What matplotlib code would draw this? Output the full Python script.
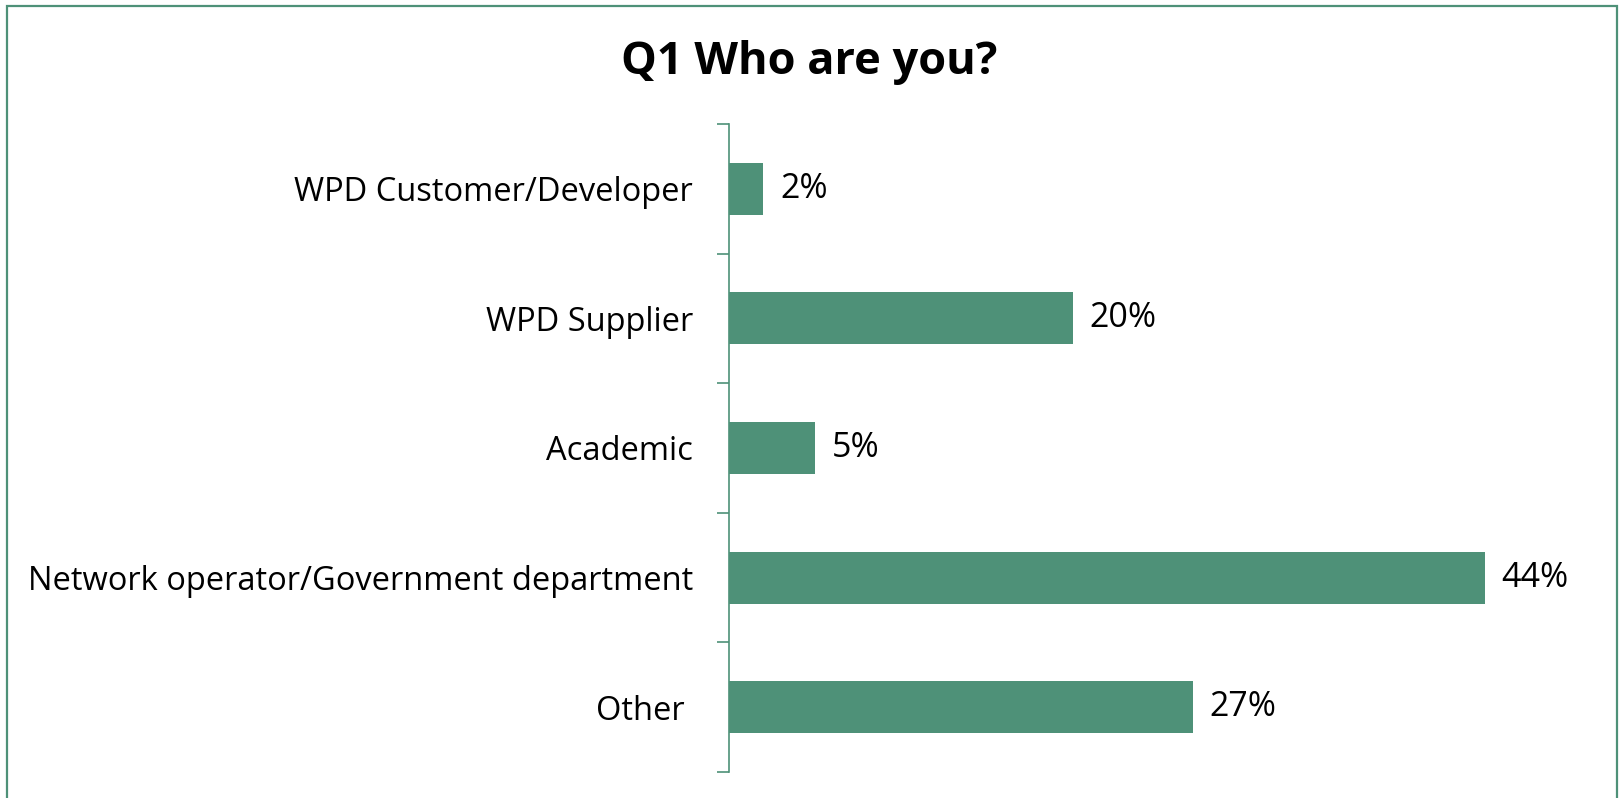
import matplotlib
matplotlib.use("Agg")
import matplotlib.pyplot as plt
from matplotlib.patches import Rectangle

categories = ["WPD Customer/Developer", "WPD Supplier", "Academic",
              "Network operator/Government department", "Other "]
values = [2, 20, 5, 44, 27]
title = "Q1 Who are you?"

green = "#4E9178"
plt.rcParams["font.family"] = ["Open Sans", "DejaVu Sans"]

fig = plt.figure(figsize=(16.19, 7.98), dpi=100)
W, H = 1619, 798
ax = fig.add_axes([729 / W, 1 - 772 / H, (1588 - 729) / W, (772 - 124) / H])

pos = list(range(len(categories)))
ax.barh(pos, values, height=0.4, color=green)
ax.set_xlim(0, 50)
ax.set_ylim(len(categories) - 0.5, -0.5)

for p, v in zip(pos, values):
    ax.annotate(f"{v}%", (v, p), xytext=(12, 0), textcoords="offset points",
                va="center", ha="left", fontsize=24.5)

ax.set_yticks(pos)
ax.set_yticklabels(categories, fontsize=23.5)
ax.tick_params(axis="y", which="major", length=0, pad=26)
ax.set_yticks([p - 0.5 for p in pos] + [len(pos) - 0.5], minor=True)
ax.tick_params(axis="y", which="minor", length=9, width=1.2, color=green)
ax.set_xticks([])
for s in ["top", "right", "bottom"]:
    ax.spines[s].set_visible(False)
ax.spines["left"].set_color(green)
ax.spines["left"].set_linewidth(1.2)

fig.text(0.5, 1 - 74 / H, title, ha="center", va="baseline",
         fontsize=32.5, fontweight="bold")

fig.patches.append(Rectangle((7 / W, -0.05), (1617 - 7) / W, 1.05 - 6 / H,
                             transform=fig.transFigure, fill=False,
                             edgecolor=green, linewidth=1.6))

fig.savefig("out.png", dpi=100)
